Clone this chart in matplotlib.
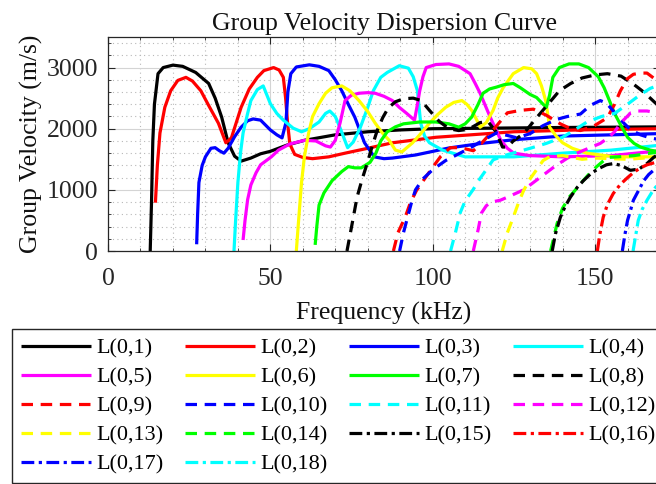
import matplotlib
matplotlib.use("Agg")
import matplotlib.pyplot as plt
from matplotlib.ticker import MultipleLocator

plt.rcParams['font.family'] = ['Liberation Serif', 'DejaVu Serif']
plt.rcParams['mathtext.fontset'] = 'stix'

# ---- dispersion data: frequency (kHz) / group velocity (m/s) per mode ----
f_L01 = [13.0, 13.4, 13.8, 14.3, 15.4, 17, 20, 23, 27, 31, 33, 35, 37, 39, 41, 44, 47, 50, 55, 60.5, 70, 80, 90, 100, 120, 140, 170]
v_L01 = [0, 800, 1800, 2400, 2900, 3000, 3040, 3020, 2920, 2740, 2500, 2190, 1770, 1550, 1470, 1520, 1590, 1630, 1730, 1810, 1900, 1950, 1980, 2000, 2010, 2020, 2030]

f_L02 = [14.6, 15.2, 16, 17.5, 19.3, 21.5, 24, 26, 28.6, 31, 34, 36.3, 38, 41, 43.5, 46, 48, 51, 52.7, 54, 54.7, 55.3, 56, 57.5, 60, 63, 68, 73, 80, 87.6, 101, 125, 145, 170]
v_L02 = [790, 1400, 1930, 2350, 2620, 2790, 2840, 2780, 2620, 2380, 2090, 1770, 1850, 2350, 2650, 2840, 2950, 3000, 2960, 2840, 2500, 2100, 1750, 1580, 1530, 1510, 1540, 1600, 1680, 1770, 1860, 1950, 1980, 2000]

f_L03 = [27.3, 27.6, 28, 29, 30, 31.7, 33, 34.3, 35.7, 37, 39, 41, 43, 44.7, 47, 50, 52, 53.6, 54.8, 55.4, 56.3, 58, 62, 65, 68, 70, 72, 74, 76, 79, 82, 85, 87.6, 94.7, 105, 115, 125, 140, 155, 170]
v_L03 = [110, 600, 1120, 1400, 1540, 1680, 1690, 1640, 1600, 1680, 1870, 2025, 2130, 2160, 2140, 1980, 1900, 1850, 2100, 2600, 2900, 3010, 3045, 3020, 2950, 2800, 2620, 2400, 2190, 1770, 1540, 1510, 1520, 1570, 1685, 1760, 1820, 1880, 1900, 1920]

f_L04 = [38.8, 39.3, 40, 40.8, 41.6, 43, 44, 46, 47.8, 50, 52, 54, 57, 59.6, 62, 65, 67, 68.3, 70, 71.4, 73, 73.8, 75.5, 77.7, 80, 81.7, 84, 86, 89.7, 92.5, 94, 95.3, 96.3, 97.5, 99, 103, 110, 125, 140, 155, 170]
v_L04 = [0, 500, 1120, 1600, 1930, 2250, 2460, 2640, 2700, 2410, 2250, 2140, 2010, 1950, 2000, 2110, 2250, 2290, 2200, 2025, 1800, 1690, 1780, 2020, 2350, 2620, 2840, 2920, 3030, 2990, 2850, 2620, 2090, 1880, 1770, 1650, 1540, 1540, 1600, 1650, 1730]

f_L05 = [41.6, 42.2, 43, 44, 45.6, 47, 50.3, 52.5, 56, 60.5, 64, 67, 68.5, 70, 71.5, 73, 75, 77.3, 80, 82.3, 85, 87.6, 89.7, 92, 94.4, 95.3, 96, 97, 98, 101, 105, 108, 111.5, 113, 114.6, 117.7, 121, 123, 125, 130, 140, 155, 170]
v_L05 = [180, 500, 840, 1080, 1280, 1410, 1540, 1650, 1750, 1810, 1800, 1720, 1700, 1810, 2100, 2460, 2550, 2580, 2590, 2580, 2530, 2460, 2350, 2250, 2140, 2400, 2620, 2850, 3000, 3050, 3060, 3020, 2900, 2750, 2580, 2190, 1810, 1680, 1600, 1560, 1540, 1560, 1640]

f_L06 = [58, 58.7, 59.6, 60.5, 61.8, 63, 65, 67, 69, 72, 74.5, 77.3, 80, 82.3, 84.5, 86.6, 88.5, 90.5, 93.8, 96, 99, 101.5, 104, 106.5, 109, 110.5, 112, 113.5, 114.6, 116.5, 118.6, 120, 121.7, 124.8, 128, 130.5, 132, 133.5, 134.8, 136, 138, 140, 143, 147.5, 156, 167, 170]
v_L06 = [0, 500, 1120, 1550, 1930, 2200, 2410, 2580, 2670, 2700, 2620, 2460, 2280, 2090, 1930, 1810, 1650, 1620, 1770, 1900, 2090, 2230, 2350, 2430, 2460, 2400, 2300, 2150, 2025, 2100, 2300, 2500, 2670, 2900, 3000, 2980, 2900, 2700, 2460, 2025, 1880, 1770, 1680, 1600, 1540, 1540, 1540]

f_L07 = [63.8, 64.3, 65, 66.5, 69, 72, 74, 76, 78, 80.7, 82.5, 84, 86, 88.5, 91, 96, 101, 105, 108, 110, 112, 114, 115.5, 117.5, 119.6, 122, 124.8, 127, 130, 132, 134, 135, 136, 137, 139, 142, 145, 148, 151, 152.8, 154.5, 156, 158, 160, 162, 164, 167, 170]
v_L07 = [100, 400, 750, 950, 1150, 1300, 1380, 1360, 1360, 1450, 1600, 1800, 1950, 2030, 2080, 2110, 2110, 2080, 2025, 2080, 2190, 2400, 2580, 2650, 2680, 2720, 2740, 2670, 2560, 2510, 2400, 2350, 2550, 2840, 3000, 3060, 3060, 3000, 2850, 2670, 2450, 2250, 2050, 1860, 1760, 1700, 1650, 1620]

f_L08 = [73.6, 75.2, 76.7, 78.3, 79.8, 81.4, 82.9, 84.6, 86.3, 88.5, 91, 94, 96.5, 99, 102, 105, 108, 111, 114.6, 117, 119.5, 121.5, 123, 124.8, 128, 132, 136, 139, 142.5, 146, 150, 153.8, 158, 161.8, 164.5, 167, 170]
v_L08 = [0, 450, 880, 1180, 1430, 1720, 1970, 2180, 2340, 2440, 2490, 2500, 2460, 2300, 2120, 2000, 1970, 1990, 2100, 2120, 1950, 1700, 1700, 1800, 1920, 2180, 2430, 2620, 2740, 2830, 2880, 2900, 2860, 2730, 2620, 2500, 2350]

f_L09 = [87.9, 89.3, 91.5, 93.2, 95, 97.5, 100, 102.5, 105.4, 108.5, 112.5, 115, 117.7, 120.5, 123, 127, 131, 135, 139.3, 142.5, 145.5, 149.5, 153.8, 156, 157.8, 160, 161.8, 164, 166, 168, 170]
v_L09 = [0, 300, 550, 800, 990, 1180, 1370, 1550, 1690, 1690, 1640, 1760, 1920, 2100, 2260, 2300, 2320, 2220, 2080, 2000, 1970, 2040, 2180, 2400, 2620, 2820, 2890, 2910, 2910, 2830, 2720]

f_L10 = [89.8, 91, 92.5, 93.5, 94.7, 97, 100, 104, 108.4, 112, 115.5, 119.6, 123, 126, 130, 134, 138, 141.5, 145.5, 148.5, 151.6, 153.5, 155.6, 158.7, 161, 164, 167, 170]
v_L10 = [0, 300, 600, 800, 1000, 1180, 1330, 1480, 1600, 1700, 1810, 1930, 1890, 1850, 1920, 2050, 2150, 2200, 2240, 2380, 2460, 2420, 2290, 2100, 1980, 1900, 1850, 1820]

f_L11 = [105.5, 107, 108.5, 110, 112.4, 114.5, 116.5, 118.6, 122, 126, 130, 135, 140, 144, 147.5, 152, 156, 160, 164, 167, 170]
v_L11 = [0, 300, 630, 820, 1000, 1180, 1330, 1490, 1560, 1620, 1680, 1760, 1860, 1990, 2110, 2200, 2250, 2400, 2560, 2660, 2720]

f_L12 = [112.5, 114, 115, 116.5, 118, 120.8, 123, 128, 133, 138, 143, 148, 151.6, 154, 156, 158, 161, 163, 166, 170]
v_L12 = [0, 350, 620, 740, 800, 830, 880, 1000, 1200, 1400, 1570, 1680, 1760, 1850, 1950, 2100, 2260, 2290, 2290, 2250]

f_L13 = [121.4, 123, 124.8, 126.5, 128, 130, 132, 134, 136, 140, 146, 150, 155, 160, 165, 170]
v_L13 = [0, 300, 550, 800, 990, 1180, 1330, 1480, 1540, 1560, 1500, 1520, 1510, 1500, 1520, 1540]

f_L14 = [136.3, 137.3, 138.3, 140, 142, 143.5, 145.5, 148, 150.5, 153.8, 157, 162, 167, 170]
v_L14 = [0, 220, 450, 700, 880, 970, 1100, 1250, 1380, 1530, 1540, 1560, 1600, 1620]

f_L15 = [136.8, 137.8, 139.3, 140.8, 142.4, 144.5, 146.4, 149, 151.6, 153.5, 155.6, 158, 160.9, 163.5, 166, 168, 170]
v_L15 = [0, 280, 550, 730, 880, 1040, 1150, 1280, 1360, 1410, 1430, 1400, 1320, 1340, 1430, 1530, 1600]

f_L16 = [150.7, 151.5, 152.5, 153.8, 155.6, 157.8, 160, 162, 164, 166, 168, 170]
v_L16 = [0, 280, 550, 760, 940, 1090, 1200, 1290, 1360, 1410, 1440, 1470]

f_L17 = [158.4, 159.2, 160, 161, 161.8, 163.5, 165, 166.5, 168, 170]
v_L17 = [0, 270, 500, 680, 830, 1000, 1150, 1250, 1320, 1380]

f_L18 = [161.7, 162.5, 163.3, 164.5, 166, 167.5, 168.6, 170]
v_L18 = [0, 250, 500, 680, 830, 960, 1040, 1120]

mode_labels = ['L(0,%d)' % k for k in range(1, 19)]
freqs = [f_L01, f_L02, f_L03, f_L04, f_L05, f_L06, f_L07, f_L08, f_L09,
         f_L10, f_L11, f_L12, f_L13, f_L14, f_L15, f_L16, f_L17, f_L18]
vels = [v_L01, v_L02, v_L03, v_L04, v_L05, v_L06, v_L07, v_L08, v_L09,
        v_L10, v_L11, v_L12, v_L13, v_L14, v_L15, v_L16, v_L17, v_L18]

colors = ['#000000', '#ff0000', '#0000ff', '#00ffff', '#ff00ff', '#ffff00', '#00ff00',
          '#000000', '#ff0000', '#0000ff', '#00ffff', '#ff00ff', '#ffff00', '#00ff00',
          '#000000', '#ff0000', '#0000ff', '#00ffff']
solid = '-'
dashed = (0, (3.6, 2.4))
dashdot = (0, (4.0, 1.4, 1.0, 1.4))
styles = [solid] * 7 + [dashed] * 7 + [dashdot] * 4

fig = plt.figure(figsize=(6.56, 4.84), dpi=100)
ax = fig.add_axes([108 / 656, 1 - 251 / 484, (660 - 108) / 656, (251 - 37) / 484])

handles = []
for f, v, c, ls, lab in zip(freqs, vels, colors, styles, mode_labels):
    h, = ax.plot(f, v, color=c, linestyle=ls, linewidth=2.3, label=lab,
                 solid_capstyle='butt', dash_capstyle='butt')
    handles.append(h)

ax.set_xlim(0, 170)
ax.set_ylim(0, 3500)
ax.xaxis.set_major_locator(MultipleLocator(50))
ax.xaxis.set_minor_locator(MultipleLocator(10))
ax.yaxis.set_major_locator(MultipleLocator(1000))
ax.yaxis.set_minor_locator(MultipleLocator(200))

ax.grid(which='major', color='#d4d4d4', linewidth=0.8, linestyle='-')
ax.grid(which='minor', color='#b8b8b8', linewidth=0.8, linestyle=(0, (1, 3)))
ax.set_axisbelow(True)

ax.tick_params(which='both', direction='in', top=True, right=True,
               labelsize=18.5, colors='#262626', labelcolor='#262626')
ax.tick_params(which='major', length=5, width=0.8)
ax.tick_params(which='minor', length=2.5, width=0.6)
ax.tick_params(axis='x', which='major', pad=12)
ax.tick_params(axis='y', which='major', pad=7)
for s in ax.spines.values():
    s.set_color('#262626')
    s.set_linewidth(0.9)

ax.set_title('Group Velocity Dispersion Curve', fontsize=18.5, pad=5, color='#111111')
ax.set_xlabel('Frequency (kHz)', fontsize=18.5, labelpad=9, color='#111111')
ax.set_ylabel('Group Velocity (m/s)', fontsize=18.5, labelpad=3, color='#111111')

# legend filled row by row (matplotlib fills columns first)
order = [0, 4, 8, 12, 16, 1, 5, 9, 13, 17, 2, 6, 10, 14, 3, 7, 11, 15]
leg = fig.legend([handles[i] for i in order], [mode_labels[i] for i in order],
                 ncol=4, loc='upper left', bbox_to_anchor=(12 / 656, 1 - 329 / 484),
                 borderaxespad=0, fontsize=16, handlelength=3.15, handletextpad=0.25,
                 columnspacing=0.95, labelspacing=0.38, borderpad=0.4,
                 frameon=True, fancybox=False, framealpha=1, edgecolor='#262626')
leg.get_frame().set_linewidth(1.0)

fig.savefig('out.png', dpi=100)
